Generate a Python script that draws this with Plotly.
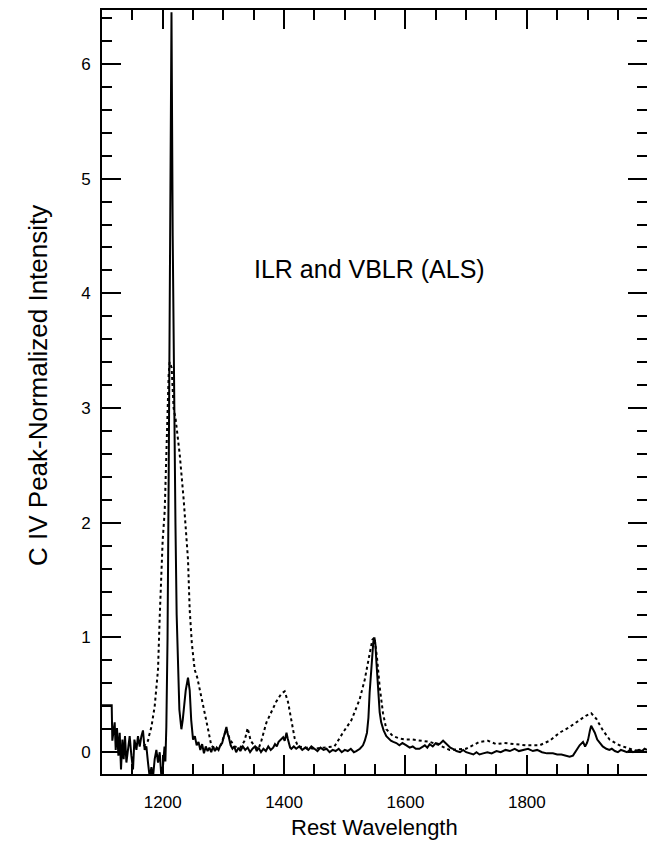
import plotly.graph_objects as go

# ILR composite (solid line): rest wavelength (Angstrom) and C IV peak-normalized intensity
ilr_wave = [
    1100, 1116, 1117, 1118.1, 1120.9, 1122.6, 1124.7, 1127.0, 1129.2, 1131.3, 1133.6,
    1135.7, 1137.9, 1140.2, 1142.8, 1145.6, 1148.4, 1151.1, 1153.4, 1156.7, 1159.3,
    1162.1, 1164.9, 1167.5, 1170.3, 1173.1, 1175.8, 1178.6, 1181.4, 1184.0, 1186.8,
    1189.6, 1192.3, 1195.1, 1197.9, 1200.5, 1203.0, 1204.4, 1206.0, 1208.0, 1210.0,
    1212.0, 1214.5, 1216.5, 1218.5, 1221.0, 1223.0, 1225.0, 1227.5, 1230.8, 1233.0,
    1238.0, 1241.7, 1244.5, 1247.0, 1250.0, 1253.0, 1256.0, 1259.0, 1262.0, 1265.0,
    1268.0, 1271.0, 1274.0, 1277.0, 1280.0, 1283.0, 1286.0, 1289.0, 1292.0, 1295.0,
    1298.0, 1302.0, 1305.0, 1307.0, 1309.0, 1312.0, 1315.0, 1318.0, 1321.0, 1325.0,
    1328.0, 1332.0, 1336.0, 1340.0, 1344.0, 1348.0, 1352.0, 1355.0, 1358.0, 1362.0,
    1366.0, 1370.0, 1374.0, 1378.0, 1382.0, 1385.0, 1388.0, 1391.0, 1395.0, 1398.5,
    1401.0, 1404.0, 1406.0, 1408.0, 1410.0, 1412.0, 1416.0, 1420.0, 1425.0, 1430.0,
    1435.0, 1440.0, 1445.0, 1450.0, 1455.0, 1460.0, 1465.0, 1470.0, 1475.0, 1480.0,
    1485.0, 1490.0, 1495.0, 1500.0, 1505.0, 1510.0, 1515.0, 1519.0, 1525.0, 1530.0,
    1533.0, 1536.6, 1539.0, 1541.0, 1543.5, 1545.5, 1547.0, 1548.8, 1550.5, 1552.0,
    1554.0, 1555.4, 1557.5, 1560.0, 1564.0, 1568.5, 1572.0, 1576.0, 1580.0, 1585.0,
    1590.0, 1595.0, 1601.5, 1607.0, 1612.0, 1617.0, 1623.0, 1628.0, 1632.0, 1636.0,
    1640.0, 1645.0, 1650.0, 1656.0, 1660.0, 1662.0, 1666.0, 1670.0, 1674.0, 1678.0,
    1684.0, 1690.0, 1695.0, 1700.0, 1706.0, 1712.0, 1717.0, 1722.0, 1728.0, 1735.0,
    1742.0, 1750.0, 1757.0, 1765.0, 1772.0, 1780.0, 1787.0, 1795.0, 1802.0, 1810.0,
    1817.0, 1825.0, 1833.0, 1843.0, 1850.0, 1857.0, 1864.0, 1870.5, 1876.0, 1882.0,
    1887.0, 1892.6, 1896.0, 1899.0, 1901.0, 1904.0, 1906.0, 1909.0, 1912.0, 1916.0,
    1920.0, 1925.0, 1931.0, 1936.0, 1940.0, 1945.0, 1950.0, 1955.0, 1960.0, 1965.0,
    1970.0, 1975.0, 1980.0, 1985.0, 1990.0, 1994.0, 1998.0,
]
ilr_flux = [
    0.41, 0.41, 0.10, 0.14, 0.26, 0.02, 0.21, -0.03, 0.17, -0.15, 0.11,
    -0.06, 0.14, -0.09, 0.05, 0.14, -0.03, -0.15, 0.11, 0.02, 0.14,
    0.05, 0.14, 0.19, 0.02, 0.05, -0.09, -0.22, -0.13, -0.22, -0.06,
    0.02, -0.09, 0.00, -0.22, -0.12, 0.05, -0.08, 0.22, 1.00, 2.50,
    4.50, 6.45, 4.50, 3.00, 2.00, 1.20, 0.80, 0.37, 0.20, 0.28,
    0.54, 0.65, 0.54, 0.28, 0.11, 0.14, 0.06, 0.09, 0.02, 0.07,
    -0.01, 0.05, 0.01, 0.04, 0.00, 0.05, 0.01, 0.04, 0.02, 0.06,
    0.08, 0.15, 0.22, 0.16, 0.13, 0.06, 0.03, 0.05, 0.00, 0.04,
    0.01, 0.05, 0.02, 0.04, 0.00, 0.03, 0.05, 0.01, 0.04, 0.00,
    0.03, 0.01, 0.05, 0.02, 0.04, 0.07, 0.05, 0.09, 0.11, 0.13,
    0.10, 0.17, 0.12, 0.08, 0.04, 0.03, 0.05, 0.03, 0.05, 0.02,
    0.04, 0.02, 0.05, 0.03, 0.01, 0.04, 0.02, 0.03, 0.00, 0.02,
    0.01, 0.03, 0.00, 0.02, 0.01, 0.03, 0.00, 0.01, 0.03, 0.06,
    0.10, 0.17, 0.30, 0.52, 0.72, 0.89, 0.96, 1.00, 0.94, 0.80,
    0.60, 0.46, 0.35, 0.26, 0.19, 0.14, 0.12, 0.10, 0.09, 0.08,
    0.06, 0.08, 0.06, 0.04, 0.05, 0.03, 0.03, 0.05, 0.06, 0.04,
    0.07, 0.05, 0.08, 0.07, 0.09, 0.10, 0.08, 0.06, 0.04, 0.03,
    0.01, 0.00, 0.02, 0.00, -0.01, -0.02, 0.00, -0.02, -0.01, 0.00,
    -0.01, 0.01, 0.00, 0.02, 0.01, 0.03, 0.01, 0.02, 0.03, 0.01,
    0.02, 0.00, -0.01, -0.01, -0.02, -0.02, -0.03, -0.04, -0.03, 0.02,
    0.06, 0.09, 0.05, 0.08, 0.11, 0.19, 0.23, 0.20, 0.17, 0.11,
    0.08, 0.05, 0.03, 0.02, 0.03, 0.01, 0.00, 0.02, 0.01, 0.00,
    0.02, 0.00, 0.01, 0.02, 0.01, 0.03, 0.02,
]

# VBLR composite (dotted line)
vblr_wave = [
    1168.7, 1175.8, 1177.4, 1181.4, 1186.8, 1192.3, 1195.1, 1197.9, 1200.0, 1203.3,
    1206.6, 1209.9, 1211.5, 1214.8, 1218.0, 1221.4, 1228.0, 1234.6, 1241.7, 1244.5,
    1248.0, 1252.7, 1257.0, 1261.0, 1266.0, 1270.0, 1274.0, 1280.0, 1288.0, 1295.0,
    1300.0, 1305.0, 1310.0, 1318.0, 1328.0, 1335.0, 1340.0, 1345.0, 1352.0, 1358.0,
    1362.6, 1371.0, 1379.0, 1387.0, 1395.5, 1401.0, 1406.4, 1412.0, 1417.5, 1423.0,
    1435.0, 1450.0, 1465.0, 1483.0, 1497.0, 1511.0, 1524.5, 1532.8, 1540.0, 1545.5,
    1549.0, 1553.0, 1557.5, 1563.0, 1568.5, 1579.5, 1590.0, 1601.5, 1612.0, 1623.0,
    1640.0, 1656.0, 1673.0, 1700.0, 1722.0, 1736.0, 1749.7, 1763.0, 1777.0, 1799.0,
    1821.0, 1837.6, 1854.0, 1870.5, 1887.0, 1898.0, 1906.0, 1914.6, 1925.4, 1936.4,
    1953.0, 1975.0, 1998.0,
]
vblr_flux = [
    0.05, 0.10, 0.14, 0.22, 0.40, 0.72, 1.18, 1.68, 1.85, 2.10,
    2.80, 3.30, 3.40, 3.35, 3.00, 2.90, 2.60, 2.20, 1.68, 1.24,
    0.95, 0.72, 0.65, 0.55, 0.45, 0.35, 0.22, 0.06, 0.02, 0.05,
    0.12, 0.20, 0.12, 0.05, 0.04, 0.10, 0.21, 0.10, 0.05, 0.03,
    0.10, 0.26, 0.35, 0.44, 0.51, 0.53, 0.44, 0.29, 0.12, 0.05,
    0.04, 0.03, 0.04, 0.05, 0.17, 0.28, 0.46, 0.63, 0.83, 0.98,
    1.00, 0.83, 0.57, 0.34, 0.20, 0.14, 0.12, 0.11, 0.11, 0.10,
    0.09, 0.06, 0.02, 0.03, 0.09, 0.10, 0.07, 0.08, 0.07, 0.06,
    0.06, 0.10, 0.17, 0.22, 0.28, 0.32, 0.34, 0.29, 0.19, 0.11,
    0.06, 0.02, 0.00,
]

x_ticks = [1200, 1400, 1600, 1800]
y_ticks = [0, 1, 2, 3, 4, 5, 6]
x_range = [1100, 1998]
y_range = [-0.19, 6.47]

FONT = "Liberation Sans, Arial, Helvetica, sans-serif"

# figure size and plot-area margins (pixels)
W, H = 647, 841
L, R, T, B = 102, 0, 10, 67
PW, PH = W - L - R, H - T - B


def px_to_paper(px, py):
    """Convert a page pixel position to paper coordinates."""
    return (px - L) / PW, (H - B - py) / PH


fig = go.Figure()
fig.add_trace(go.Scatter(
    x=ilr_wave, y=ilr_flux, mode="lines",
    line=dict(color="black", width=2), name="ILR",
))
fig.add_trace(go.Scatter(
    x=vblr_wave, y=vblr_flux, mode="lines",
    line=dict(color="black", width=2, dash="dot"), name="VBLR",
))
# empty trace anchoring the right-hand tick axis
fig.add_trace(go.Scatter(x=[], y=[], yaxis="y2", showlegend=False))

xt_x, xt_y = px_to_paper(374, 827)
yt_x, yt_y = px_to_paper(38, 386)

fig.update_layout(
    width=W, height=H,
    margin=dict(l=L, r=R, t=T, b=B),
    paper_bgcolor="white", plot_bgcolor="white",
    showlegend=False,
    font=dict(family=FONT, color="black"),
    xaxis=dict(
        range=x_range, tickvals=x_ticks, ticks="inside", ticklen=19, tickwidth=1.6,
        tickcolor="black", showline=True, linecolor="black", linewidth=2,
        mirror="ticks", showgrid=False, zeroline=False,
        tickfont=dict(size=17, family=FONT), ticklabelstandoff=12,
        minor=dict(dtick=50, ticks="inside", ticklen=10, tickwidth=1.6,
                   tickcolor="black", showgrid=False),
    ),
    yaxis=dict(
        range=y_range, tickvals=y_ticks, ticks="inside", ticklen=19, tickwidth=1.6,
        tickcolor="black", showline=True, linecolor="black", linewidth=2,
        mirror=False, showgrid=False, zeroline=False,
        tickfont=dict(size=17, family=FONT), ticklabelstandoff=6,
        minor=dict(dtick=0.2, tick0=0, ticks="inside", ticklen=10, tickwidth=1.6,
                   tickcolor="black", showgrid=False),
    ),
    yaxis2=dict(
        range=y_range, overlaying="y", side="right", tickvals=y_ticks,
        ticks="inside", ticklen=19, tickwidth=1.6, tickcolor="black",
        showline=False, showgrid=False, zeroline=False, showticklabels=False,
        minor=dict(dtick=0.2, tick0=0, ticks="inside", ticklen=10, tickwidth=1.6,
                   tickcolor="black", showgrid=False),
    ),
    annotations=[
        dict(text="ILR and VBLR (ALS)", x=1540, y=4.21, xref="x", yref="y",
             xanchor="center", yanchor="middle",
             showarrow=False, font=dict(size=25, family=FONT)),
        dict(text="Rest Wavelength", x=xt_x, y=xt_y, xref="paper", yref="paper",
             xanchor="center", yanchor="middle",
             showarrow=False, font=dict(size=22, family=FONT)),
        dict(text="C IV Peak-Normalized Intensity", x=yt_x, y=yt_y,
             xref="paper", yref="paper", xanchor="center", yanchor="middle",
             textangle=-90, showarrow=False, font=dict(size=26, family=FONT)),
    ],
)

fig.write_html("out.html", config={"displayModeBar": False})
